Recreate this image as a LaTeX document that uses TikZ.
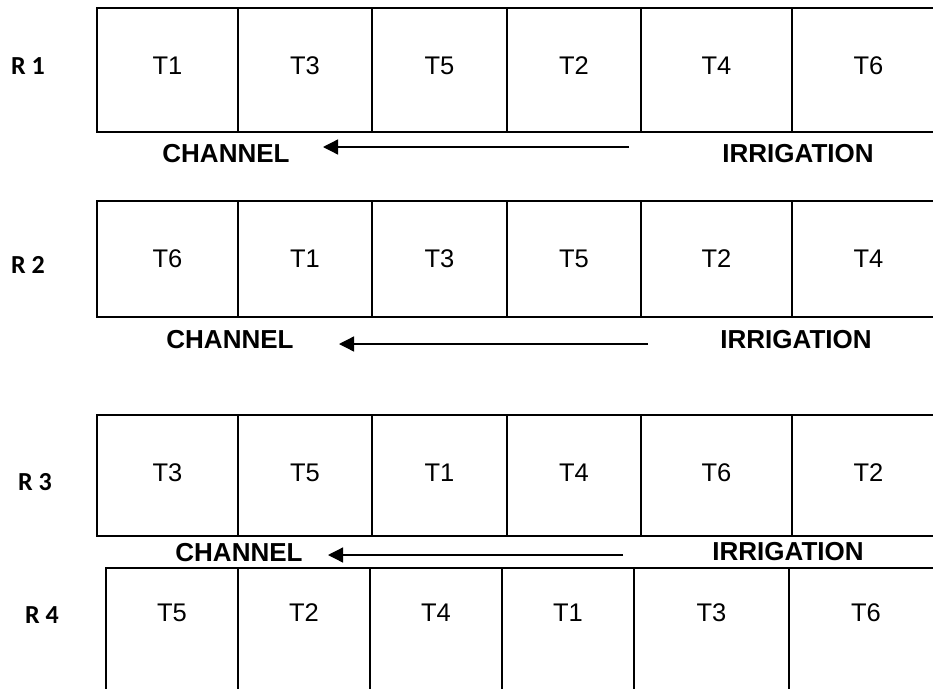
\documentclass[tikz,border=0pt]{standalone}
\usepackage{fontspec}
\setmainfont{Liberation Sans}
\newfontfamily\rowfont{Carlito}
\usetikzlibrary{positioning,arrows.meta}

\begin{document}
\begin{tikzpicture}[x=1pt,y=-1pt,
 cell/.style={draw,line width=2.2pt,outer sep=0pt,inner sep=0pt,font=\fontsize{25.5}{30}\selectfont},
 rowlab/.style={font=\rowfont\bfseries\fontsize{26}{30}\selectfont},
 side/.style={font=\bfseries\fontsize{26}{30}\selectfont},
 flow/.style={-{Triangle[length=15pt,width=15pt]},line width=1.3pt}]
 \useasboundingbox (0,0) rectangle (933,688);
 \clip (0,0) rectangle (933,688);
 % R 1
 \node[rowlab](r1) at (28,66){R 1};
 \node[cell,text depth=8pt,minimum width=141pt,minimum height=124pt](a1) at (167.5,70){T1};
 \node[cell,text depth=8pt,minimum width=134pt,minimum height=124pt,right=0pt of a1](a2){T3};
 \node[cell,text depth=8pt,minimum width=135pt,minimum height=124pt,right=0pt of a2](a3){T5};
 \node[cell,text depth=8pt,minimum width=134pt,minimum height=124pt,right=0pt of a3](a4){T2};
 \node[cell,text depth=8pt,minimum width=151pt,minimum height=124pt,right=0pt of a4](a5){T4};
 \node[cell,text depth=8pt,minimum width=153pt,minimum height=124pt,right=0pt of a5](a6){T6};
 \node[side](ch1) at (226,154){CHANNEL};
 \node[side](ir1) at (798,154){IRRIGATION};
 \coordinate (s1) at (629,147);
 \coordinate (e1) at (323,147);
 \draw[flow](s1)--(e1);
 % R 2
 \node[rowlab](r2) at (28,265){R 2};
 \node[cell,minimum width=141pt,minimum height=116pt](b1) at (167.5,259){T6};
 \node[cell,minimum width=134pt,minimum height=116pt,right=0pt of b1](b2){T1};
 \node[cell,minimum width=135pt,minimum height=116pt,right=0pt of b2](b3){T3};
 \node[cell,minimum width=134pt,minimum height=116pt,right=0pt of b3](b4){T5};
 \node[cell,minimum width=151pt,minimum height=116pt,right=0pt of b4](b5){T2};
 \node[cell,minimum width=153pt,minimum height=116pt,right=0pt of b5](b6){T4};
 \node[side](ch2) at (230,340){CHANNEL};
 \node[side](ir2) at (796,340){IRRIGATION};
 \coordinate (s2) at (648,344);
 \coordinate (e2) at (339,344);
 \draw[flow](s2)--(e2);
 % R 3
 \node[rowlab](r3) at (35,482){R 3};
 \node[cell,text depth=5pt,minimum width=141pt,minimum height=121pt](c1) at (167.5,475.5){T3};
 \node[cell,text depth=5pt,minimum width=134pt,minimum height=121pt,right=0pt of c1](c2){T5};
 \node[cell,text depth=5pt,minimum width=135pt,minimum height=121pt,right=0pt of c2](c3){T1};
 \node[cell,text depth=5pt,minimum width=134pt,minimum height=121pt,right=0pt of c3](c4){T4};
 \node[cell,text depth=5pt,minimum width=151pt,minimum height=121pt,right=0pt of c4](c5){T6};
 \node[cell,text depth=5pt,minimum width=153pt,minimum height=121pt,right=0pt of c5](c6){T2};
 \node[side](ch3) at (239,553){CHANNEL};
 \node[side](ir3) at (788,552){IRRIGATION};
 \coordinate (s3) at (623,555);
 \coordinate (e3) at (328,555);
 \draw[flow](s3)--(e3);
 % R 4
 \node[rowlab](r4) at (42,615){R 4};
 \node[cell,text depth=50pt,minimum width=132pt,minimum height=140pt](d1) at (172,638){T5};
 \node[cell,text depth=50pt,minimum width=132pt,minimum height=140pt,right=0pt of d1](d2){T2};
 \node[cell,text depth=50pt,minimum width=132pt,minimum height=140pt,right=0pt of d2](d3){T4};
 \node[cell,text depth=50pt,minimum width=132pt,minimum height=140pt,right=0pt of d3](d4){T1};
 \node[cell,text depth=50pt,minimum width=155pt,minimum height=140pt,right=0pt of d4](d5){T3};
 \node[cell,text depth=50pt,minimum width=154pt,minimum height=140pt,right=0pt of d5](d6){T6};
\end{tikzpicture}
\end{document}
